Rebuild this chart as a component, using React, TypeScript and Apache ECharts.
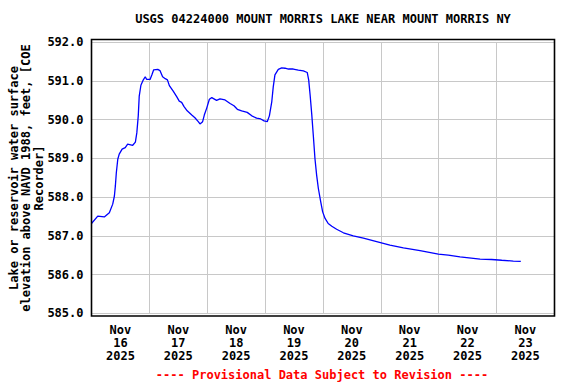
import React, { useEffect, useRef } from 'react';
import * as echarts from 'echarts';

const TITLE = 'USGS 04224000 MOUNT MORRIS LAKE NEAR MOUNT MORRIS NY';
const Y_TITLE_LINES = [
  'Lake or reservoir water surface',
  'elevation above NAVD 1988, feet, [COE',
  'Recorder]',
];
const FOOTER = '---- Provisional Data Subject to Revision ----';

const MONTH = 'Nov';
const YEAR = '2025';
const dayLabels = ['16', '17', '18', '19', '20', '21', '22', '23'];

const yMin = 585;
const yMax = 592;
const yStep = 1;
const xMinHours = 0;
const xMaxHours = 192;
const hoursPerDay = 24;

// hours since Nov 16 2025 00:00
const hoursSinceStart = [
  0, 2.6, 5.3, 7.4, 8.8, 9.5, 9.9, 10.3, 10.9, 11.5, 12.7, 14.0, 15.0, 17.1, 18.2,
  18.8, 19.4, 19.8, 20.5, 21.5, 22.3, 22.9, 24.3, 25.1, 25.8, 27.5, 28.4, 29.5,
  30.6, 31.5, 32.3, 33.9, 35.4, 36.4, 37.4, 38.4, 39.7, 41.6, 42.9, 44.3, 45.0,
  46.1, 46.8, 47.8, 48.9, 49.9, 50.8, 51.9, 53.3, 55.4, 57.5, 59.1, 60.5, 62.3,
  64.6, 66.5, 68.5, 70.2, 71.6, 72.9, 73.8, 74.8, 75.4, 76.1, 77.5, 78.9, 80.3,
  81.7, 83.7, 85.8, 87.9, 89.5, 90.1, 90.7, 91.4, 92.0, 92.7, 93.4, 94.1, 95.1,
  95.9, 96.9, 98.2, 99.7, 101.7, 104.5, 108.6, 112.8, 118.3, 123.8, 129.4, 136.3,
  143.9, 148.0, 152.9, 161.2, 166.0, 170.2, 175.0, 178.1,
];
const elevationFt = [
  587.32, 587.51, 587.49, 587.6, 587.82, 588.03, 588.29, 588.63, 588.98, 589.11,
  589.24, 589.28, 589.37, 589.34, 589.42, 589.66, 590.1, 590.61, 590.89, 591.03,
  591.11, 591.04, 591.04, 591.17, 591.29, 591.3, 591.27, 591.11, 591.06, 591.03,
  590.88, 590.74, 590.59, 590.48, 590.45, 590.34, 590.23, 590.12, 590.05, 589.95,
  589.89, 589.95, 590.12, 590.3, 590.53, 590.57, 590.54, 590.5, 590.54, 590.51,
  590.42, 590.36, 590.27, 590.23, 590.19, 590.1, 590.04, 590.02, 589.97, 589.95,
  590.1, 590.47, 590.85, 591.16, 591.3, 591.34, 591.33, 591.31, 591.31, 591.28,
  591.26, 591.22, 591.03, 590.64, 590.12, 589.61, 589.0, 588.57, 588.23, 587.88,
  587.62, 587.45, 587.32, 587.25, 587.17, 587.08, 587.0, 586.94, 586.85, 586.76,
  586.69, 586.62, 586.53, 586.5, 586.46, 586.4, 586.39, 586.37, 586.35, 586.34,
];

const FONT = "'DejaVu Sans Mono', monospace";

export default function App() {
  const ref = useRef<HTMLDivElement>(null);

  useEffect(() => {
    if (!ref.current) return;
    const chart = echarts.init(ref.current, null, { renderer: 'svg' });
    const data = hoursSinceStart.map((h, i) => [h, elevationFt[i]]);
    const gridLeft = 91.5;
    const gridRight = 554.3;
    const gridTop = 42.3;
    const gridBottom = 313.3;

    chart.setOption({
      animation: false,
      backgroundColor: '#ffffff',
      grid: {
        left: gridLeft,
        top: gridTop,
        width: gridRight - gridLeft,
        height: gridBottom - gridTop,
        containLabel: false,
      },
      xAxis: [
        {
          type: 'value',
          min: xMinHours,
          max: xMaxHours,
          interval: hoursPerDay,
          axisLine: { show: false },
          axisTick: { show: false },
          axisLabel: { show: false },
          splitLine: { show: true, lineStyle: { color: '#c8c8c8', width: 1 } },
        },
        {
          type: 'value',
          position: 'bottom',
          min: xMinHours,
          max: xMaxHours,
          interval: hoursPerDay / 2,
          axisLine: { show: false },
          axisTick: { show: false },
          splitLine: { show: false },
          axisLabel: {
            show: true,
            showMinLabel: true,
            showMaxLabel: true,
            margin: 10,
            color: '#000',
            fontFamily: FONT,
            fontWeight: 'bold',
            fontSize: 12,
            lineHeight: 13,
            formatter: (v: number) => {
              const k = Math.round(v / (hoursPerDay / 2));
              if (k % 2 === 1) {
                const idx = (k - 1) / 2;
                return `${MONTH}\n${dayLabels[idx] ?? ''}\n${YEAR}`;
              }
              return '';
            },
          },
        },
      ],
      yAxis: {
        type: 'value',
        min: yMin,
        max: yMax,
        interval: yStep,
        axisLine: { show: false },
        axisTick: { show: false },
        axisLabel: {
          margin: 8,
          color: '#000',
          fontFamily: FONT,
          fontWeight: 'bold',
          fontSize: 12,
          formatter: (v: number) => v.toFixed(1),
        },
        splitLine: { show: true, lineStyle: { color: '#c8c8c8', width: 1 } },
      },
      series: [
        {
          type: 'line',
          xAxisIndex: 0,
          data,
          showSymbol: false,
          symbol: 'none',
          lineStyle: { color: '#0000ff', width: 1.3 },
          z: 5,
        },
      ],
      graphic: [
        {
          type: 'rect',
          shape: { x: 91.5, y: 39.5, width: 463, height: 276.5 },
          style: { fill: 'none', stroke: '#000', lineWidth: 1.6 },
          z: 10,
        },
        {
          type: 'text',
          x: 323,
          y: 19,
          style: {
            text: TITLE,
            align: 'center',
            verticalAlign: 'middle',
            fill: '#000',
            font: `bold 12px ${FONT}`,
          },
        },
        {
          type: 'text',
          x: 26,
          y: 178,
          rotation: Math.PI / 2,
          style: {
            text: Y_TITLE_LINES.join('\n'),
            align: 'center',
            verticalAlign: 'middle',
            lineHeight: 12.5,
            fill: '#000',
            font: `bold 12px ${FONT}`,
          },
        },
        {
          type: 'text',
          x: 322,
          y: 375,
          style: {
            text: FOOTER,
            align: 'center',
            verticalAlign: 'middle',
            fill: '#ff0000',
            font: `bold 12px ${FONT}`,
          },
        },
      ],
    });

    return () => {
      chart.dispose();
    };
  }, []);

  return (
    <div
      ref={ref}
      style={{ position: 'fixed', left: 0, top: 0, width: 576, height: 384, background: '#fff' }}
    />
  );
}
